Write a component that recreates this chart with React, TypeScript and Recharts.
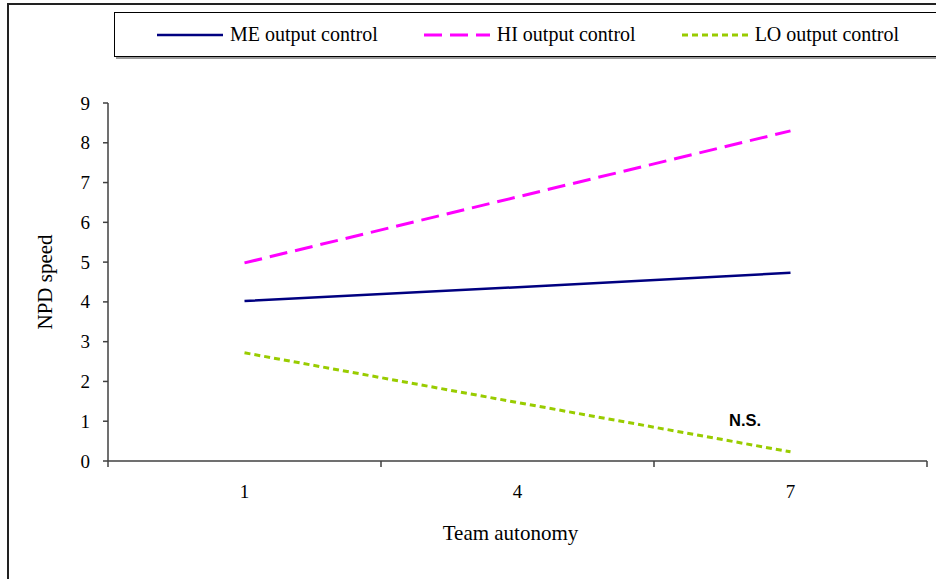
import { LineChart, Line, XAxis, YAxis } from "recharts";

// Team autonomy levels (x categories)
const categories = ["1", "4", "7"];

// NPD speed for each output-control level
const meValues = [4.02, 4.37, 4.73];
const hiValues = [4.98, 6.64, 8.3];
const loValues = [2.72, 1.47, 0.23];

const yTicks = [0, 1, 2, 3, 4, 5, 6, 7, 8, 9];

const series = [
  { key: "me", name: "ME output control", color: "#000080", dash: undefined, width: 2.5 },
  { key: "hi", name: "HI output control", color: "#FF00FF", dash: "18 8", width: 3 },
  { key: "lo", name: "LO output control", color: "#99CC00", dash: "6 4", width: 3 },
];

// each category sits in the middle of its own band
const data = categories.map((c, i) => ({
  x: i + 0.5,
  label: c,
  me: meValues[i],
  hi: hiValues[i],
  lo: loValues[i],
}));

const xTicks: number[] = [];
for (let i = 0; i <= categories.length; i++) {
  xTicks.push(i);
  if (i < categories.length) xTicks.push(i + 0.5);
}

const SERIF = "Liberation Serif, Times New Roman, serif";
const AXIS = "#404040";

const XTick = (props: any) => {
  const { x, y, payload } = props;
  const v = payload.value;
  if (Number.isInteger(v)) {
    return <line x1={x} y1={y} x2={x} y2={y + 6} stroke={AXIS} strokeWidth={1.5} />;
  }
  const cat = categories[Math.floor(v)];
  return (
    <text x={x} y={y + 37} textAnchor="middle" style={{ fontFamily: SERIF }} fontSize={19} fill="#000">
      {cat}
    </text>
  );
};

const YTick = (props: any) => {
  const { x, y, payload } = props;
  return (
    <text
      x={x}
      y={y}
      textAnchor="end"
      dominantBaseline="central"
      style={{ fontFamily: SERIF }}
      fontSize={19}
      fill="#000"
    >
      {payload.value}
    </text>
  );
};

const YLabel = (props: any) => {
  const vb = props.viewBox || { x: 0, y: 0, width: 0, height: 0 };
  const cx = 45;
  const cy = vb.y + vb.height / 2;
  return (
    <text
      x={cx}
      y={cy}
      transform={`rotate(-90 ${cx} ${cy})`}
      textAnchor="middle"
      dominantBaseline="central"
      style={{ fontFamily: SERIF }}
      fontSize={21}
      fill="#000"
    >
      NPD speed
    </text>
  );
};

const XLabel = (props: any) => {
  const vb = props.viewBox || { x: 0, y: 0, width: 0, height: 0 };
  return (
    <text
      x={vb.x + vb.width / 2 - 7}
      y={vb.y + 79}
      textAnchor="middle"
      style={{ fontFamily: SERIF }}
      fontSize={21}
      fill="#000"
    >
      Team autonomy
    </text>
  );
};

const LegendBox = () => (
  <div
    style={{
      position: "absolute",
      left: 114,
      top: 12,
      width: 806,
      height: 43,
      border: "1px solid #000",
      boxShadow: "2px 2px 0 #999",
      background: "#fff",
      display: "flex",
      alignItems: "center",
      paddingLeft: 42,
      gap: 46,
      boxSizing: "content-box",
      fontFamily: SERIF,
      fontSize: 20,
    }}
  >
    {series.map((s) => (
      <div key={s.key} style={{ display: "flex", alignItems: "center", gap: 7 }}>
        <svg width={66} height={8}>
          <line
            x1={0}
            y1={4}
            x2={66}
            y2={4}
            stroke={s.color}
            strokeWidth={s.width}
            strokeDasharray={s.dash}
          />
        </svg>
        <span>{s.name}</span>
      </div>
    ))}
  </div>
);

export default function App() {
  return (
    <div style={{ position: "relative", width: 936, height: 579, background: "#fff", overflow: "hidden" }}>
      <style>{`body{margin:0}`}</style>
      <div
        style={{
          position: "absolute",
          left: 7,
          top: 3,
          width: 960,
          height: 600,
          borderLeft: "2px solid #222",
          borderTop: "2px solid #222",
        }}
      />
      <LineChart
        width={936}
        height={579}
        data={data}
        margin={{ top: 103, right: 9, bottom: 0, left: 0 }}
        style={{ position: "absolute", left: 0, top: 0, fontFamily: SERIF }}
      >
        <XAxis
          dataKey="x"
          type="number"
          domain={[0, categories.length]}
          ticks={xTicks}
          interval={0}
          tickSize={0}
          tickMargin={0}
          tickLine={false}
          tick={<XTick />}
          height={118}
          stroke={AXIS}
          strokeWidth={1.5}
          label={<XLabel />}
        />
        <YAxis
          type="number"
          domain={[0, 9]}
          ticks={yTicks}
          interval={0}
          width={108}
          tickSize={5}
          tickMargin={13}
          stroke={AXIS}
          strokeWidth={1.5}
          tick={<YTick />}
          label={<YLabel />}
        />
        {series.map((s) => (
          <Line
            key={s.key}
            type="linear"
            dataKey={s.key}
            name={s.name}
            stroke={s.color}
            strokeWidth={s.width}
            strokeDasharray={s.dash}
            dot={false}
            activeDot={false}
            isAnimationActive={false}
          />
        ))}
      </LineChart>
      <LegendBox />
      <div
        style={{
          position: "absolute",
          left: 729,
          top: 411,
          fontFamily: "Liberation Sans, Arial, sans-serif",
          fontWeight: "bold",
          fontSize: 16.5,
        }}
      >
        N.S.
      </div>
    </div>
  );
}
